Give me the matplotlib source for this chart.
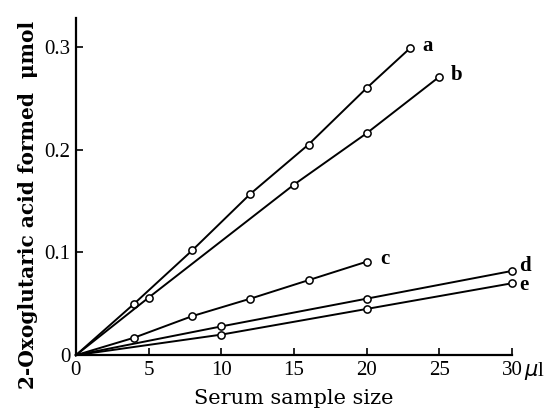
import numpy as np
import matplotlib.pyplot as plt

# serum sample size (ul) and 2-oxoglutaric acid formed (umol)
x_a = [4, 8, 12, 16, 20, 23]
y_a = [0.050, 0.102, 0.157, 0.205, 0.260, 0.299]
x_b = [5, 15, 20, 25]
y_b = [0.056, 0.166, 0.216, 0.271]
x_c = [4, 8, 12, 16, 20]
y_c = [0.017, 0.038, 0.055, 0.073, 0.091]
x_d = [10, 20, 30]
y_d = [0.028, 0.055, 0.082]
x_e = [10, 20, 30]
y_e = [0.020, 0.045, 0.070]
names = ["a", "b", "c", "d", "e"]

xticks = [0, 5, 10, 15, 20, 25, 30]
yticks = [0, 0.1, 0.2, 0.3]
yticklabels = ["0", "0.1", "0.2", "0.3"]

plt.rcParams['font.family'] = ['Liberation Serif', 'DejaVu Serif']

fig = plt.figure(figsize=(5.5, 4.13), dpi=100)
ax = fig.add_axes([0.138, 0.140, 0.793, 0.816])

series = [(x_a, y_a), (x_b, y_b), (x_c, y_c), (x_d, y_d), (x_e, y_e)]
for (xs, ys), name in zip(series, names):
    xs = np.concatenate([[0], xs])
    ys = np.concatenate([[0], ys])
    ax.plot(xs, ys, color="black", lw=1.4, marker="o", markevery=list(range(1, len(xs))),
            markersize=5.2, markerfacecolor="white", markeredgecolor="black",
            markeredgewidth=1.1, clip_on=False, zorder=3)

# labels next to the last point of each line
lab = dict(fontsize=15, fontweight="bold", va="center")
ax.text(x_a[-1] + 0.8, y_a[-1] + 0.002, "a", **lab)
ax.text(x_b[-1] + 0.8, y_b[-1] + 0.002, "b", **lab)
ax.text(x_c[-1] + 0.9, y_c[-1] + 0.003, "c", **lab)
ax.text(x_d[-1] + 0.5, y_d[-1] + 0.005, "d", **lab)
ax.text(x_e[-1] + 0.5, y_e[-1] - 0.002, "e", **lab)

ax.set_xlim(0, 30)
ax.set_ylim(0, 0.328)
ax.spines["top"].set_visible(False)
ax.spines["right"].set_visible(False)
ax.spines["left"].set_linewidth(1.6)
ax.spines["bottom"].set_linewidth(1.6)
ax.spines["bottom"].set_bounds(0, 30)

ax.set_xticks(xticks)
ax.set_xticklabels([str(t) for t in xticks])
ax.set_yticks(yticks)
ax.set_yticklabels(yticklabels)
ax.tick_params(direction="in", length=5, width=1.2, labelsize=15, pad=4)
ax.annotate(r"$\mu$l", xy=(30, 0), xytext=(8.5, -3.2), textcoords="offset points",
            fontsize=15, va="top", ha="left", annotation_clip=False)

ax.set_xlabel("Serum sample size", fontsize=15, family="DejaVu Serif", labelpad=7)
ax.set_ylabel("2-Oxoglutaric acid formed  \u03bcmol", fontsize=14.5, fontweight="bold",
              family="DejaVu Serif")
ax.yaxis.set_label_coords(-0.087, 0.445)

plt.savefig("out.png")
